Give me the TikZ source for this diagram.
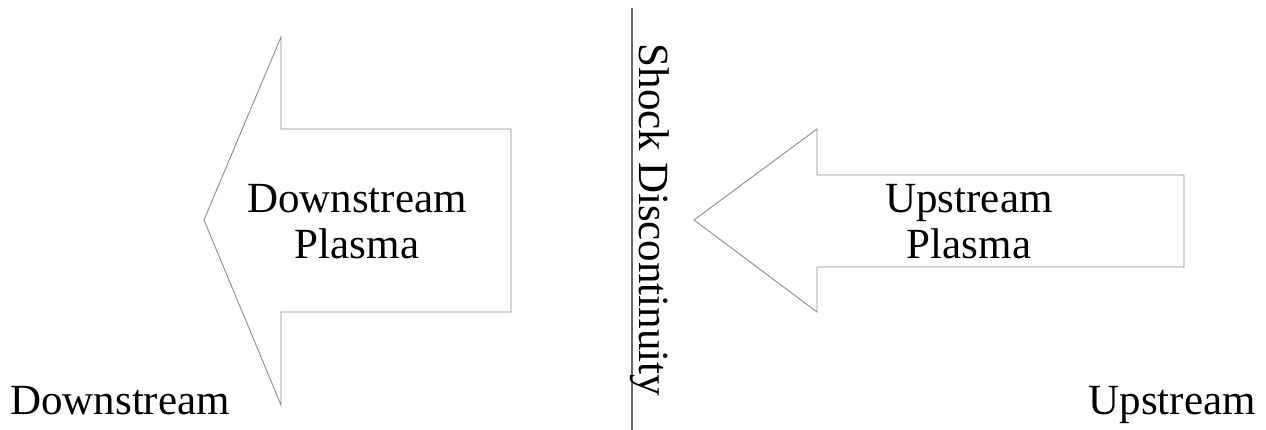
\documentclass[tikz,border=0pt]{standalone}
\usepackage{fontspec}
\setmainfont{Liberation Serif}
\begin{document}
\begin{tikzpicture}[x=1pt,y=-1pt,
  outline/.style={draw=black!45,line width=0.9pt,line join=miter},
  divider/.style={draw=black!60,line width=1.4pt},
  label/.style={inner sep=0pt,font=\fontsize{43}{47}\selectfont},
  blocktext/.style={label,align=center}]
\useasboundingbox (0,0) rectangle (1266,430);

% left block arrow (downstream flow)
\draw[outline] (204,220) -- (281,37) -- (281,129) -- (511,129) -- (511,312)
  -- (281,312) -- (281,405) -- cycle;
\node[blocktext,anchor=base] (down) at (357,259) {Downstream\\Plasma};

% right block arrow (upstream flow)
\draw[outline] (694,220) -- (817,129) -- (817,175) -- (1184,175) -- (1184,267)
  -- (817,267) -- (817,312) -- cycle;
\node[blocktext,anchor=base] (up) at (969,259) {Upstream\\Plasma};

% shock front
\coordinate (stop) at (632,8);
\coordinate (sbot) at (632,430);
\draw[divider] (stop) -- (sbot);
\node[label,rotate=-90,anchor=base] (shock) at (639,220) {Shock Discontinuity};

% region labels
\node[label,anchor=base west] (dlab) at (10,414) {Downstream};
\node[label,anchor=base east] (ulab) at (1256,414) {Upstream};
\end{tikzpicture}
\end{document}
